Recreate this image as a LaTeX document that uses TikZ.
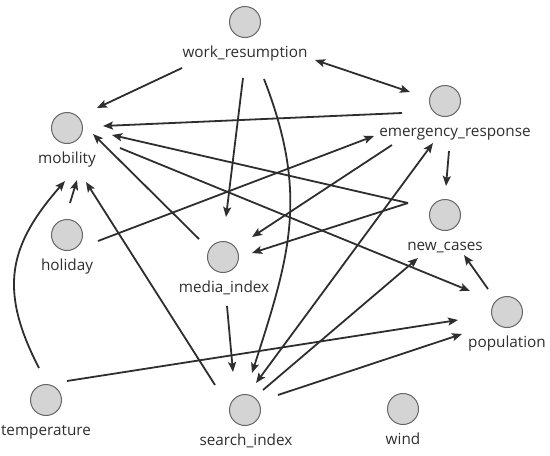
\documentclass[tikz,border=0pt]{standalone}
\usepackage{fontspec}
\setmainfont{Open Sans}
\usetikzlibrary{arrows.meta}
\definecolor{ink}{HTML}{2E2E2E}
\definecolor{nodefill}{HTML}{D4D4D4}
\definecolor{nodeline}{HTML}{666666}
\begin{document}
\begin{tikzpicture}[x=1pt,y=-1pt,
  vtx/.style={circle, fill=nodefill, draw=nodeline, line width=1pt, minimum size=31pt, inner sep=0pt},
  lbl/.style={anchor=base, inner sep=0pt, font=\fontsize{15.3}{18}\selectfont, text=ink},
  e/.style={draw=ink, line width=1.8pt, -{Stealth[length=10pt,width=8pt,inset=2pt]}},
  ee/.style={draw=ink, line width=1.8pt, {Stealth[length=10pt,width=8pt,inset=2pt]}-{Stealth[length=10pt,width=8pt,inset=2pt]}},
]
\useasboundingbox (0,0) rectangle (550,456);
% vertices
\node[vtx] (wr) at (245,22) {};
\node[lbl] (wrl) at (245,57) {work\_resumption};
\node[vtx] (mob) at (67,128) {};
\node[lbl] (mobl) at (67,163) {mobility};
\node[vtx] (em) at (445,101) {};
\node[lbl] (eml) at (455,136) {emergency\_response};
\node[vtx] (hol) at (67,235) {};
\node[lbl] (holl) at (67,270) {holiday};
\node[vtx] (med) at (223,257) {};
\node[lbl] (medl) at (224,292) {media\_index};
\node[vtx] (nc) at (445,215) {};
\node[lbl] (ncl) at (445,250) {new\_cases};
\node[vtx] (pop) at (507,312) {};
\node[lbl] (popl) at (507,347) {population};
\node[vtx] (tmp) at (46,400) {};
\node[lbl] (tmpl) at (46,435) {temperature};
\node[vtx] (si) at (245,410) {};
\node[lbl] (sil) at (246,445) {search\_index};
\node[vtx] (wind) at (403,409) {};
\node[lbl] (windl) at (403,444) {wind};
% edges
\draw[e] ([shift={(-63,46)}]wr.center) -- ([shift={(30,-20)}]mob.center);
\draw[ee] ([shift={(70,38)}]wr.center) -- ([shift={(-35,-9)}]em.center);
\draw[e] ([shift={(-2,56)}]wr.center) -- ([shift={(3,-40)}]med.center);
\draw[e] ([shift={(19,57)}]wr.center) .. controls +(45,116) and +(38,-118) .. ([shift={(7,-37)}]si.center);
\draw[e] ([shift={(-43,12)}]em.center) -- ([shift={(36,-2)}]mob.center);
\draw[e] ([shift={(4,50)}]em.center) -- ([shift={(1,-29)}]nc.center);
\draw[e] ([shift={(-53,44)}]em.center) -- ([shift={(29,-20)}]med.center);
\draw[e] ([shift={(31,6)}]hol.center) -- ([shift={(-71,35)}]em.center);
\draw[e] ([shift={(3,-32)}]hol.center) -- ([shift={(10,52)}]mob.center);
\draw[e] ([shift={(-7,-32)}]tmp.center) .. controls +(-41,-79) and +(-56,64) .. ([shift={(-2,53)}]mob.center);
\draw[e] ([shift={(-30,-25)}]si.center) -- ([shift={(19,54)}]mob.center);
\draw[e] ([shift={(-24,-18)}]med.center) -- ([shift={(26,6)}]mob.center);
\draw[e] ([shift={(-37,-12)}]nc.center) -- ([shift={(45,7)}]mob.center);
\draw[e] ([shift={(-37,-12)}]nc.center) -- ([shift={(29,-4)}]med.center);
\draw[e] ([shift={(53,20)}]mob.center) -- ([shift={(-37,-21)}]pop.center);
\draw[e] ([shift={(-19,-23)}]pop.center) -- ([shift={(19,40)}]nc.center);
\draw[e] ([shift={(4,49)}]med.center) -- ([shift={(-12,-38)}]si.center);
\draw[ee] ([shift={(11,-27)}]si.center) -- ([shift={(-12,42)}]em.center);
\draw[e] ([shift={(18,-20)}]si.center) -- ([shift={(-27,43)}]nc.center);
\draw[e] ([shift={(33,-15)}]si.center) -- ([shift={(-45,22)}]pop.center);
\draw[e] ([shift={(21,-19)}]tmp.center) -- ([shift={(-49,8)}]pop.center);
\end{tikzpicture}
\end{document}
